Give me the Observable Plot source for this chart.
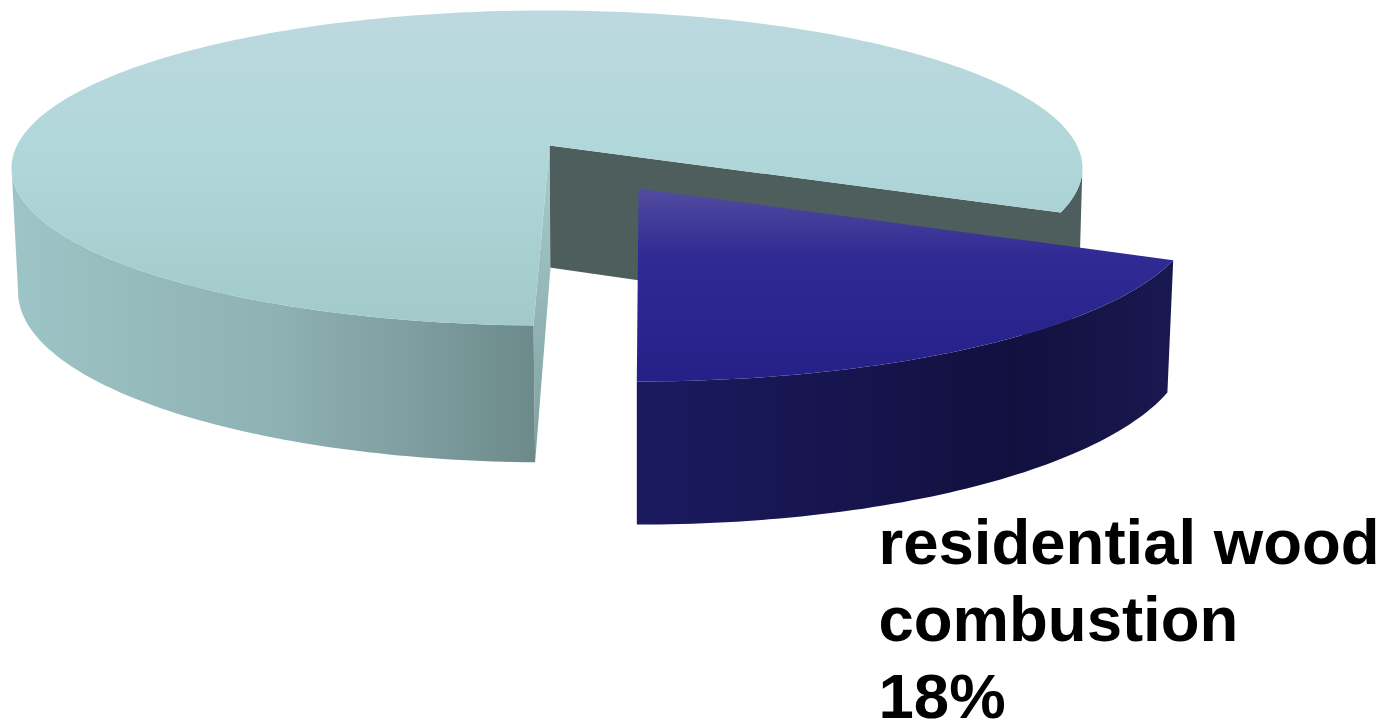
<!DOCTYPE html>
<html><head><meta charset="utf-8">
<style>html,body{margin:0;padding:0;background:#fff}svg{display:block}</style>
<script src="https://cdn.jsdelivr.net/npm/d3@7"></script>
<script src="https://cdn.jsdelivr.net/npm/@observablehq/plot@0.6"></script>
</head><body><script>
const categories = ["other sources", "residential wood combustion"];
const shares = [82, 18];
const labelLines = ["residential wood", "combustion"];

const W = 1398, H = 721;
const rad = d => d * Math.PI / 180;
const disc = (cx, cy, A, B, k) => deg => {
  const u = Math.sin(rad(deg)), v = Math.cos(rad(deg)), w = 1 + k * v;
  return {x: cx + B * u / w, y: cy - A * v / w};
};
const apex = (cx, cy) => ({x: cx, y: cy});
const rim = (p, a0, a1) => {
  const n = Math.ceil(Math.abs(a1 - a0));
  return d3.range(n + 1).map(i => p(a0 + (a1 - a0) * i / n));
};

const wedgeSpan = shares[1] * 3.6;
const mid = 147.7, gap = 1.15;
const cutA = mid - wedgeSpan / 2 - gap, cutB = mid + wedgeSpan / 2 + gap;
const blueMid = 147.15, blueGap = 0.6;
const blueA = blueMid - wedgeSpan / 2 - blueGap, blueB = blueMid + wedgeSpan / 2 + blueGap;

const mainTop = disc(546.5, 145, 154.3, 530, 1 / 7);
const mainLow = disc(548, 267, 167, 525, 1 / 7);
const blueTop = disc(638, 188, 164.8, 551, 0.146);
const blueLow = disc(638, 314, 179.4, 545, 0.146);

const polys = [
  {id: "wall", fill: "#4e5e5c", pts: [
    ...rim(mainTop, 100, cutA), apex(549, 145), apex(549, 267), ...rim(mainLow, cutA, 100)]},
  {id: "cut", fill: "url(#cutG)", pts: [
    apex(549, 145), apex(550, 267), mainLow(cutB), mainTop(cutB)]},
  {id: "mainSide", fill: "url(#sideG)", pts: [
    ...rim(mainTop, cutB, 262), ...rim(mainLow, 262, cutB)]},
  {id: "mainTop", fill: "url(#topG)", pts: [
    apex(549, 145), ...rim(mainTop, cutB, 360 + cutA)]},
  {id: "blueSide", fill: "url(#bSideG)", pts: [
    ...rim(blueTop, blueA, blueB), ...rim(blueLow, blueB, blueA)]},
  {id: "blueTop", fill: "url(#bTopG)", pts: [
    apex(638, 188), ...rim(blueTop, blueA, blueB)]}
];

const gradient = (id, horizontal, stops) =>
  `<linearGradient id="${id}" x1="0" y1="0" x2="${horizontal ? 1 : 0}" y2="${horizontal ? 0 : 1}">` +
  stops.map(([o, c]) => `<stop offset="${o}" stop-color="${c}"/>`).join("") + `</linearGradient>`;

const defsMark = () => {
  const g = document.createElementNS("http://www.w3.org/2000/svg", "defs");
  g.innerHTML =
    gradient("topG", false, [[0, "#bcd9df"], [0.45, "#b0d7da"], [1, "#a2caca"]]) +
    gradient("sideG", true, [[0, "#9dc4c6"], [0.5, "#8fb2b4"], [0.8, "#7c9b9c"], [1, "#6c8a8a"]]) +
    gradient("cutG", false, [[0, "#a8cdce"], [1, "#7f9f9f"]]) +
    gradient("bTopG", false, [[0, "#524ca0"], [0.35, "#302a94"], [1, "#252088"]]) +
    gradient("bSideG", true, [[0, "#1b1a60"], [0.7, "#12103f"], [1, "#191850"]]);
  return g;
};

const plot = Plot.plot({
  width: W, height: H, margin: 0,
  x: {domain: [0, W], range: [0, W], axis: null},
  y: {domain: [0, H], range: [0, H], axis: null},
  marks: [
    defsMark,
    ...polys.map(p => Plot.line(p.pts, {x: "x", y: "y", fill: p.fill, stroke: "none", curve: "linear"})),
    Plot.text([[...labelLines, shares[1] + "%"].join("\n")], {
      x: () => 878, y: () => 717, text: d => d,
      textAnchor: "start", lineAnchor: "bottom", lineHeight: 1.2126,
      fontFamily: "Liberation Sans", fontWeight: "bold", fontSize: 63.5, fill: "#000", lineWidth: Infinity
    })
  ]
});
document.body.appendChild(plot);
</script></body></html>
